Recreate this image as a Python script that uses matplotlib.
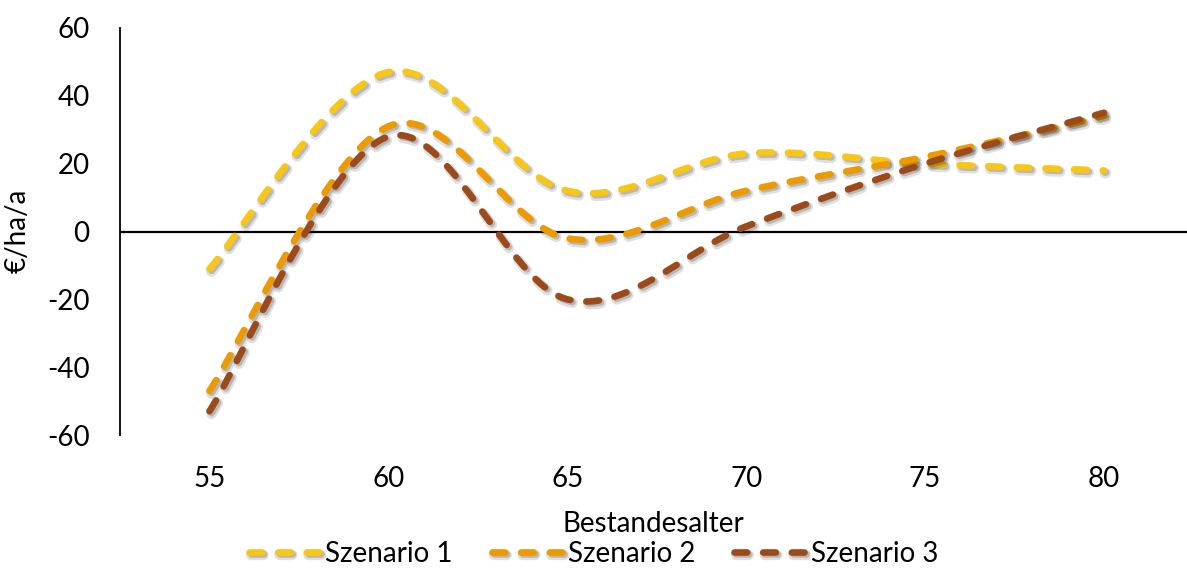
import numpy as np
import matplotlib
matplotlib.use("Agg")
import matplotlib.pyplot as plt
import matplotlib.patheffects as pe

plt.rcParams['font.family'] = ['Lato', 'DejaVu Sans']
plt.rcParams['axes.unicode_minus'] = False

alter = [55, 60, 65, 70, 75, 80]
szenario_1 = [-11, 47, 12, 23, 20, 18]
szenario_2 = [-47, 31, -2, 12, 22, 34]
szenario_3 = [-53, 28, -20, 1.5, 20, 35]

series = [
    ("Szenario 1", szenario_1, "#F7C616"),
    ("Szenario 2", szenario_2, "#EC9A00"),
    ("Szenario 3", szenario_3, "#9D4A1B"),
]


def smooth(xs, ys, n=40):
    # cardinal spline through the points, drawn as cubic bezier segments
    p = np.column_stack([xs, ys]).astype(float)
    pts = np.vstack([p[0], p, p[-1]])
    out = []
    t = np.linspace(0, 1, n)[:, None]
    for i in range(1, len(pts) - 2):
        p0, p1, p2, p3 = pts[i - 1], pts[i], pts[i + 1], pts[i + 2]
        c1 = p1 + (p2 - p0) / 6
        c2 = p2 - (p3 - p1) / 6
        seg = ((1 - t) ** 3) * p1 + 3 * ((1 - t) ** 2) * t * c1 \
            + 3 * (1 - t) * t ** 2 * c2 + t ** 3 * p2
        out.append(seg if i == 1 else seg[1:])
    out = np.vstack(out)
    return out[:, 0], out[:, 1]


fig = plt.figure(figsize=(11.87, 5.70), dpi=100)
ax = fig.add_axes([120 / 1187, 1 - 435 / 570, 1 - 120 / 1187, (435 - 28) / 570])

ax.axhline(0, color="black", lw=1.6, zorder=1)

shadow = [
    pe.SimpleLineShadow(offset=(1.5, -2), shadow_color="black", alpha=0.12, linewidth=7.5),
    pe.SimpleLineShadow(offset=(1.5, -1.5), shadow_color="black", alpha=0.18),
    pe.Normal(),
]

for name, vals, col in series:
    sx, sy = smooth(alter, vals)
    ax.plot(sx, sy, color=col, lw=4.8, linestyle=(0, (1.9, 2.4)),
            dash_capstyle="round", label=name, zorder=3, path_effects=shadow)

ax.set_xlim(52.5, 82.32)
ax.set_ylim(-60, 60)
ax.set_xticks(alter)
ax.set_yticks(range(-60, 61, 20))
ax.tick_params(axis="both", length=0, labelsize=20)
ax.tick_params(axis="y", pad=22)
ax.tick_params(axis="x", pad=22)

for s in ["top", "right", "bottom"]:
    ax.spines[s].set_visible(False)
ax.spines["left"].set_linewidth(1.3)

ax.set_xlabel("Bestandesalter", fontsize=20, labelpad=14)
fig.text(18 / 1187, 1 - 231 / 570, "€/ha/a", rotation=90, fontsize=20,
         ha="center", va="center")

fig.legend(loc="center", bbox_to_anchor=(0.5, 1 - 554 / 570), ncol=3,
           frameon=False, fontsize=20, handlelength=2.65, handletextpad=0.1,
           columnspacing=1.4)

fig.savefig("out.png", dpi=100)
